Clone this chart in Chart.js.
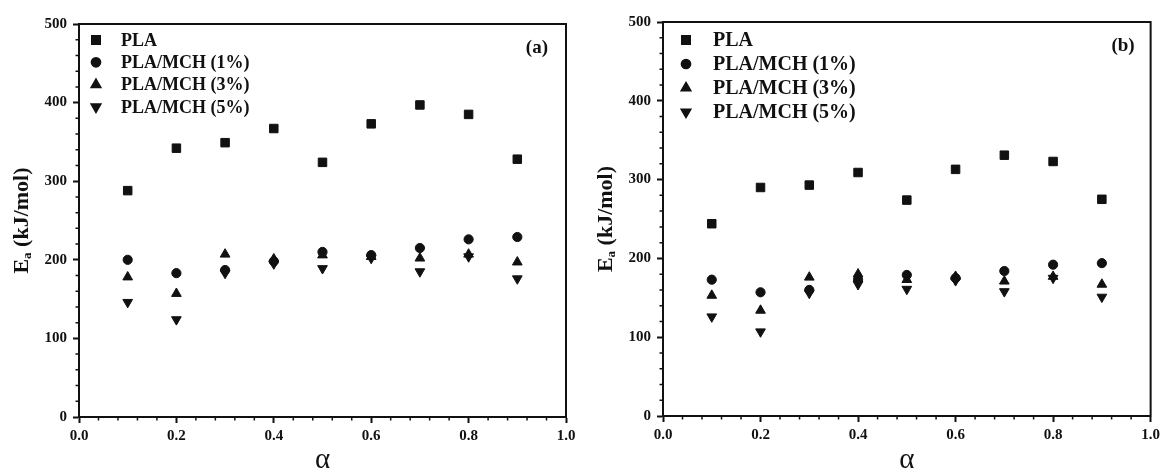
<!DOCTYPE html>
<html lang="en">
<head>
  <meta charset="UTF-8">
  <title>Activation energy vs conversion</title>
  <script src="https://cdn.jsdelivr.net/npm/chart.js"></script>
  <style>
    body { margin: 0; background: #fff; }
    .panel { position: absolute; top: 0; width: 582px; height: 470px; }
    #panelA { left: 0; }
    #panelB { left: 582px; }
  </style>
</head>
<body>
  <div class="panel" id="panelA"><canvas id="chartA" width="582" height="470"></canvas></div>
  <div class="panel" id="panelB"><canvas id="chartB" width="582" height="470"></canvas></div>

  <script>
    // conversion degree
    const alpha = [0.1, 0.2, 0.3, 0.4, 0.5, 0.6, 0.7, 0.8, 0.9];
    const seriesNames = ['PLA', 'PLA/MCH (1%)', 'PLA/MCH (3%)', 'PLA/MCH (5%)'];

    // panel (a), Ea in kJ/mol
    const plaA  = [288, 342, 349, 367, 324, 373, 397, 385, 328];
    const mch1A = [200, 183, 187, 198, 210, 206, 215, 226, 229];
    const mch3A = [178, 157, 207, 201, 206, 204, 202, 207, 197];
    const mch5A = [146, 124, 183, 195, 189, 202, 185, 204, 176];

    // panel (b), Ea in kJ/mol
    const plaB  = [244, 290, 293, 309, 274, 313, 331, 323, 275];
    const mch1B = [173, 157, 160, 173, 179, 175, 184, 192, 194];
    const mch3B = [153, 134, 176, 180, 173, 177, 171, 177, 167];
    const mch5B = [126, 107, 156, 167, 161, 172, 158, 175, 151];

    const xTicks = [0, 0.2, 0.4, 0.6, 0.8, 1.0];
    const yTicks = [0, 100, 200, 300, 400, 500];

    const INK = '#111';
    const SERIF = '"Liberation Serif", "Times New Roman", serif';

    const markers = [
      { pointStyle: 'rect', rotation: 0, radius: 6 },
      { pointStyle: 'circle', rotation: 0, radius: 4.6 },
      { pointStyle: 'triangle', rotation: 0, radius: 5.6 },
      { pointStyle: 'triangle', rotation: 180, radius: 5.6 }
    ];

    function makeDatasets(lists) {
      return lists.map((vals, k) => ({
        label: seriesNames[k],
        data: alpha.map((a, i) => ({ x: a, y: vals[i] })),
        pointStyle: markers[k].pointStyle,
        rotation: markers[k].rotation,
        pointRadius: markers[k].radius,
        pointHoverRadius: markers[k].radius,
        backgroundColor: INK,
        borderColor: INK,
        borderWidth: 1,
        showLine: false
      }));
    }

    // frame, minor ticks, legend inside, axis titles, panel letter
    const decor = {
      id: 'decor',
      afterDraw(chart, args, opts) {
        const ctx = chart.ctx;
        const a = chart.chartArea;
        const xs = chart.scales.x, ys = chart.scales.y;
        ctx.save();
        ctx.strokeStyle = INK;
        ctx.fillStyle = INK;

        // box
        ctx.lineWidth = 2;
        ctx.strokeRect(a.left, a.top, a.right - a.left, a.bottom - a.top);

        // minor ticks
        ctx.lineWidth = 1.5;
        ctx.beginPath();
        for (let i = 1; i < 25; i++) {
          if (i % 5 === 0) continue;
          const px = xs.getPixelForValue(i * 0.04);
          ctx.moveTo(px, a.bottom);
          ctx.lineTo(px, a.bottom + 3.5);
        }
        for (let i = 1; i < 25; i++) {
          if (i % 5 === 0) continue;
          const py = ys.getPixelForValue(i * 20);
          ctx.moveTo(a.left, py);
          ctx.lineTo(a.left - 3.5, py);
        }
        ctx.stroke();

        // legend
        ctx.font = 'bold ' + opts.legendFont + 'px ' + SERIF;
        ctx.textBaseline = 'middle';
        ctx.textAlign = 'left';
        chart.data.datasets.forEach((ds, k) => {
          const y = a.top + opts.legendTop + k * opts.legendStep;
          Chart.helpers.drawPoint(ctx, {
            pointStyle: ds.pointStyle,
            rotation: ds.rotation,
            radius: ds.pointRadius,
            borderWidth: 1
          }, a.left + opts.markerX, y);
          ctx.fillText(ds.label, a.left + opts.textX, y + 1);
        });

        // panel letter
        ctx.font = 'bold 19px ' + SERIF;
        ctx.textAlign = 'right';
        ctx.fillText(opts.letter, a.right - opts.letterInset, a.top + 24);

        // x title
        ctx.font = '29px ' + SERIF;
        ctx.textAlign = 'center';
        ctx.fillText('\u03b1', (a.left + a.right) / 2, 460);

        // y title with subscript
        const big = 'bold 22px ' + SERIF, small = 'bold 13px ' + SERIF;
        ctx.font = big;
        const wE = ctx.measureText('E').width;
        const wRest = ctx.measureText(' (kJ/mol)').width;
        ctx.font = small;
        const wSub = ctx.measureText('a').width;
        const total = wE + wSub + wRest;
        ctx.translate(opts.yTitleX, (a.top + a.bottom) / 2);
        ctx.rotate(-Math.PI / 2);
        ctx.textAlign = 'left';
        let x0 = -total / 2;
        ctx.font = big;
        ctx.fillText('E', x0, 0);
        ctx.font = small;
        ctx.fillText('a', x0 + wE, 6);
        ctx.font = big;
        ctx.fillText(' (kJ/mol)', x0 + wE + wSub, 0);
        ctx.restore();
      }
    };

    function makeChart(id, lists, cfg) {
      return new Chart(document.getElementById(id), {
        type: 'scatter',
        data: { datasets: makeDatasets(lists) },
        options: {
          responsive: false,
          animation: false,
          devicePixelRatio: 1,
          layout: { padding: { left: 0, top: cfg.top, right: cfg.right, bottom: 0 } },
          plugins: {
            legend: { display: false },
            tooltip: { enabled: false },
            decor: cfg.decor
          },
          scales: {
            x: {
              type: 'linear',
              min: xTicks[0],
              max: xTicks[xTicks.length - 1],
              afterBuildTicks: s => { s.ticks = xTicks.map(v => ({ value: v })); },
              afterFit: s => { s.height = 470 - cfg.bottom; },
              ticks: {
                callback: v => v.toFixed(1),
                color: INK,
                padding: 4,
                maxRotation: 0,
                autoSkip: false,
                font: { family: SERIF, size: 15, weight: 'bold' }
              },
              grid: { drawOnChartArea: false, drawTicks: true, tickLength: 6, tickWidth: 2, tickColor: INK },
              border: { display: true, color: INK, width: 2 }
            },
            y: {
              type: 'linear',
              min: yTicks[0],
              max: yTicks[yTicks.length - 1],
              afterBuildTicks: s => { s.ticks = yTicks.map(v => ({ value: v })); },
              afterFit: s => { s.width = cfg.left; },
              ticks: {
                color: INK,
                padding: 6,
                font: { family: SERIF, size: 15, weight: 'bold' }
              },
              grid: { drawOnChartArea: false, drawTicks: true, tickLength: 6, tickWidth: 2, tickColor: INK },
              border: { display: true, color: INK, width: 2 }
            }
          }
        },
        plugins: [decor]
      });
    }

    makeChart('chartA', [plaA, mch1A, mch3A, mch5A], {
      left: 79, top: 24, right: 16, bottom: 417,
      decor: { letter: '(a)', letterInset: 18, legendFont: 18, legendTop: 16, legendStep: 22.3,
               markerX: 17, textX: 42, yTitleX: 22 }
    });

    makeChart('chartB', [plaB, mch1B, mch3B, mch5B], {
      left: 81, top: 22, right: 11, bottom: 416,
      decor: { letter: '(b)', letterInset: 16, legendFont: 20, legendTop: 18, legendStep: 24,
               markerX: 23, textX: 50, yTitleX: 24 }
    });
  </script>
</body>
</html>
